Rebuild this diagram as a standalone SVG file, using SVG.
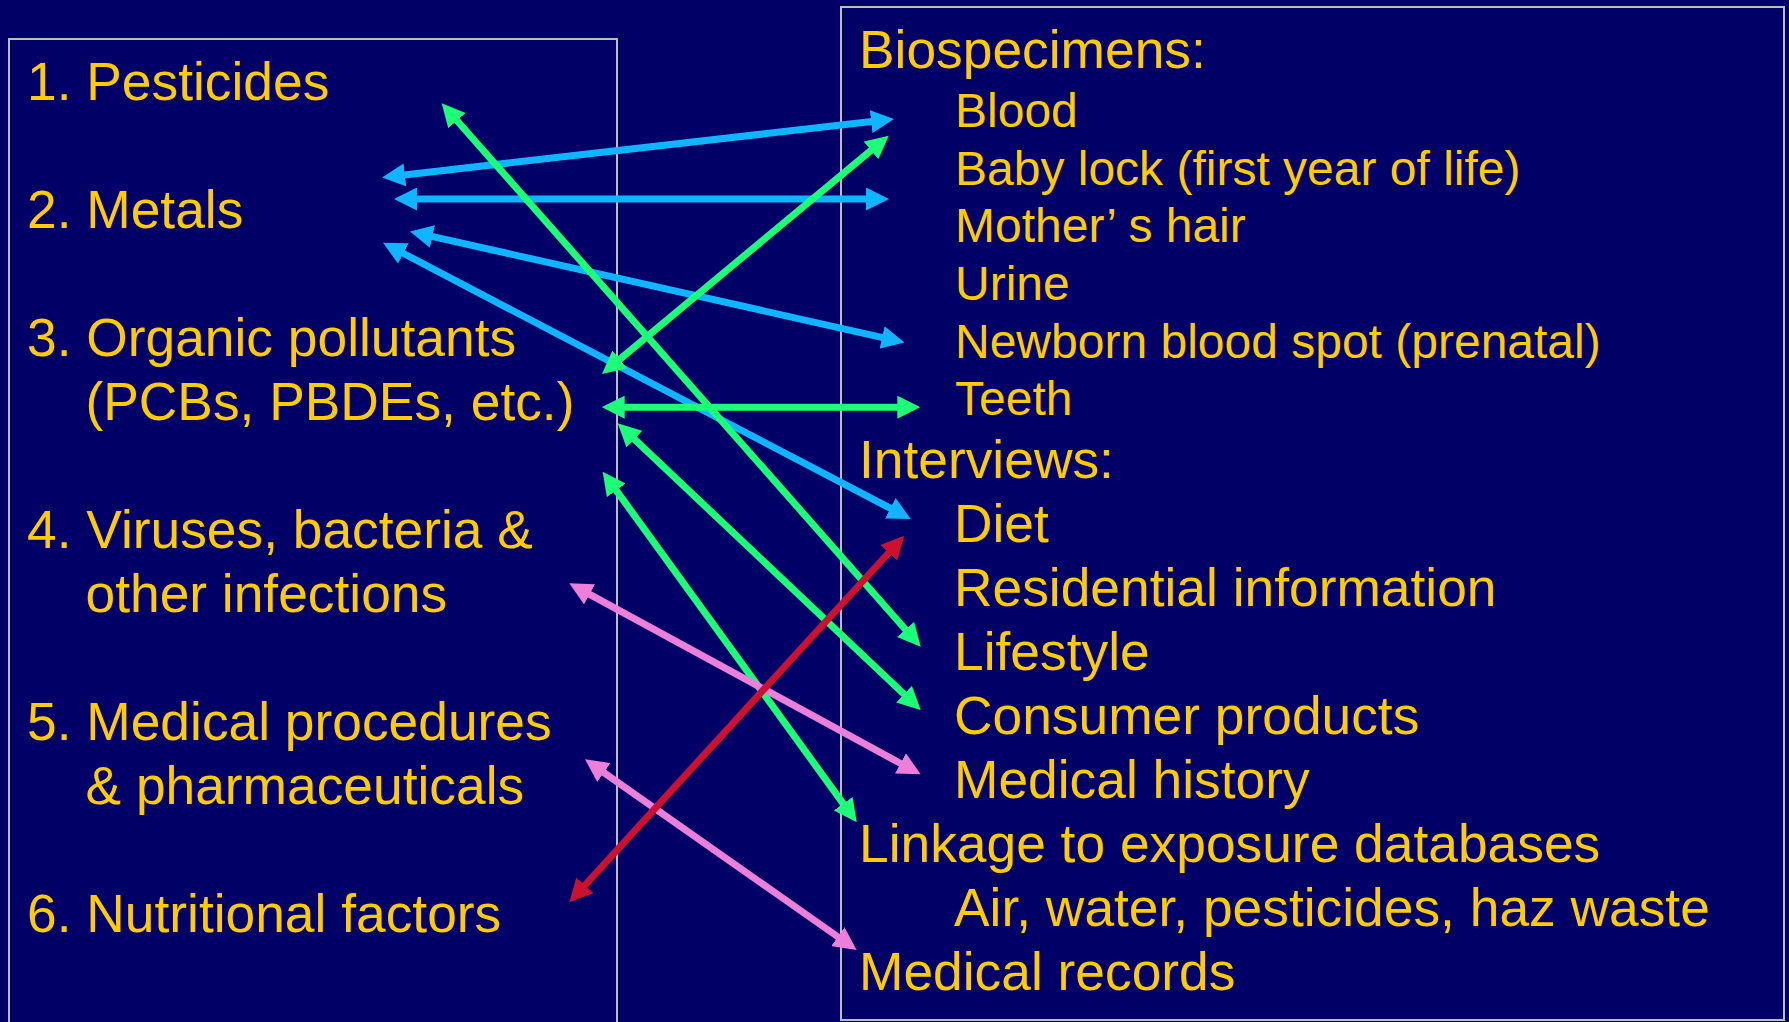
<svg xmlns="http://www.w3.org/2000/svg" width="1789" height="1022" viewBox="0 0 1789 1022">
  <style>
    .panel { fill: none; stroke: #BDBDBD; stroke-width: 2; }
    .t { font-family: "Liberation Sans", Arial, sans-serif; font-size: 53.33px; fill: #FFCC00; }
    .s { font-size: 48px; }
    .conn { fill: none; stroke-width: 7; stroke-linecap: butt; }
    .blue { stroke: #11B5FF; marker-start: url(#hb); marker-end: url(#hb); }
    .green { stroke: #1DFF76; marker-start: url(#hg); marker-end: url(#hg); }
    .pink { stroke: #EC7FDA; marker-start: url(#hp); marker-end: url(#hp); }
    .red { stroke: #CC1030; marker-start: url(#hr); marker-end: url(#hr); }
  </style>
  <defs>
    <marker id="hb" viewBox="0 0 23 23" refX="3" refY="11.5" markerWidth="23" markerHeight="23" markerUnits="userSpaceOnUse" orient="auto-start-reverse"><path d="M0,0 L23,11.5 L0,23 z" fill="#11B5FF"/></marker>
    <marker id="hg" viewBox="0 0 23 23" refX="3" refY="11.5" markerWidth="23" markerHeight="23" markerUnits="userSpaceOnUse" orient="auto-start-reverse"><path d="M0,0 L23,11.5 L0,23 z" fill="#1DFF76"/></marker>
    <marker id="hp" viewBox="0 0 23 23" refX="3" refY="11.5" markerWidth="23" markerHeight="23" markerUnits="userSpaceOnUse" orient="auto-start-reverse"><path d="M0,0 L23,11.5 L0,23 z" fill="#EC7FDA"/></marker>
    <marker id="hr" viewBox="0 0 23 23" refX="3" refY="11.5" markerWidth="23" markerHeight="23" markerUnits="userSpaceOnUse" orient="auto-start-reverse"><path d="M0,0 L23,11.5 L0,23 z" fill="#CC1030"/></marker>
  </defs>
  <rect x="0" y="0" width="1789" height="1022" fill="#000066"/>

  <g id="exposures-panel">
    <rect class="panel" x="9" y="39" width="608" height="1000"/>
    <g id="n-pesticides"><text class="t" x="27" y="100">1. Pesticides</text></g>
    <g id="n-metals"><text class="t" x="27" y="228">2. Metals</text></g>
    <g id="n-organic"><text class="t" x="27" y="356">3. Organic pollutants</text><text class="t" x="85.5" y="420">(PCBs, PBDEs, etc.)</text></g>
    <g id="n-infections"><text class="t" x="27" y="548">4. Viruses, bacteria &amp;</text><text class="t" x="85.5" y="612">other infections</text></g>
    <g id="n-medical"><text class="t" x="27" y="740">5. Medical procedures</text><text class="t" x="85.5" y="804">&amp; pharmaceuticals</text></g>
    <g id="n-nutrition"><text class="t" x="27" y="932">6. Nutritional factors</text></g>
  </g>

  <g id="sources-panel">
    <rect class="panel" x="841" y="7" width="943" height="1013"/>
    <g id="n-biospecimens"><text class="t" x="859" y="68">Biospecimens:</text></g>
    <g id="n-blood"><text class="t s" x="955" y="126.5">Blood</text></g>
    <g id="n-babylock"><text class="t s" x="955" y="184.5">Baby lock (first year of life)</text></g>
    <g id="n-hair"><text class="t s" x="955" y="242">Mother’ s hair</text></g>
    <g id="n-urine"><text class="t s" x="955" y="299.5">Urine</text></g>
    <g id="n-newborn"><text class="t s" x="955" y="358">Newborn blood spot (prenatal)</text></g>
    <g id="n-teeth"><text class="t s" x="955" y="414.5">Teeth</text></g>
    <g id="n-interviews"><text class="t" x="859" y="477.5">Interviews:</text></g>
    <g id="n-diet"><text class="t" x="954" y="541.5">Diet</text></g>
    <g id="n-residential"><text class="t" x="954" y="606">Residential information</text></g>
    <g id="n-lifestyle"><text class="t" x="954" y="670">Lifestyle</text></g>
    <g id="n-consumer"><text class="t" x="954" y="734">Consumer products</text></g>
    <g id="n-history"><text class="t" x="954" y="797.5">Medical history</text></g>
    <g id="n-linkage"><text class="t" x="859" y="862">Linkage to exposure databases</text></g>
    <g id="n-air"><text class="t" x="954" y="926">Air, water, pesticides, haz waste</text></g>
    <g id="n-records"><text class="t" x="859" y="989.5">Medical records</text></g>
  </g>

  <g id="connectors">
    <line class="conn blue" x1="401.9" y1="175.2" x2="874.1" y2="121.3"/>
    <line class="conn blue" x1="414" y1="199" x2="869" y2="199"/>
    <line class="conn blue" x1="429.5" y1="235.9" x2="885.0" y2="338.1"/>
    <line class="conn blue" x1="400.7" y1="252.0" x2="893.0" y2="509.7"/>
    <line class="conn green" x1="454.9" y1="118.3" x2="907.5" y2="631.7"/>
    <line class="conn green" x1="617.4" y1="361.2" x2="873.3" y2="148.5"/>
    <line class="conn green" x1="621.7" y1="407.2" x2="900.3" y2="407.2"/>
    <line class="conn green" x1="632.2" y1="437.1" x2="906.2" y2="696.3"/>
    <line class="conn green" x1="614.4" y1="487.9" x2="845.0" y2="806.1"/>
    <line class="conn pink" x1="586.9" y1="592.9" x2="903.1" y2="764.8"/>
    <line class="conn pink" x1="601.4" y1="770.8" x2="840.3" y2="938.5"/>
    <line class="conn red" x1="582.8" y1="887.5" x2="890.8" y2="550.5"/>
  </g>
</svg>
